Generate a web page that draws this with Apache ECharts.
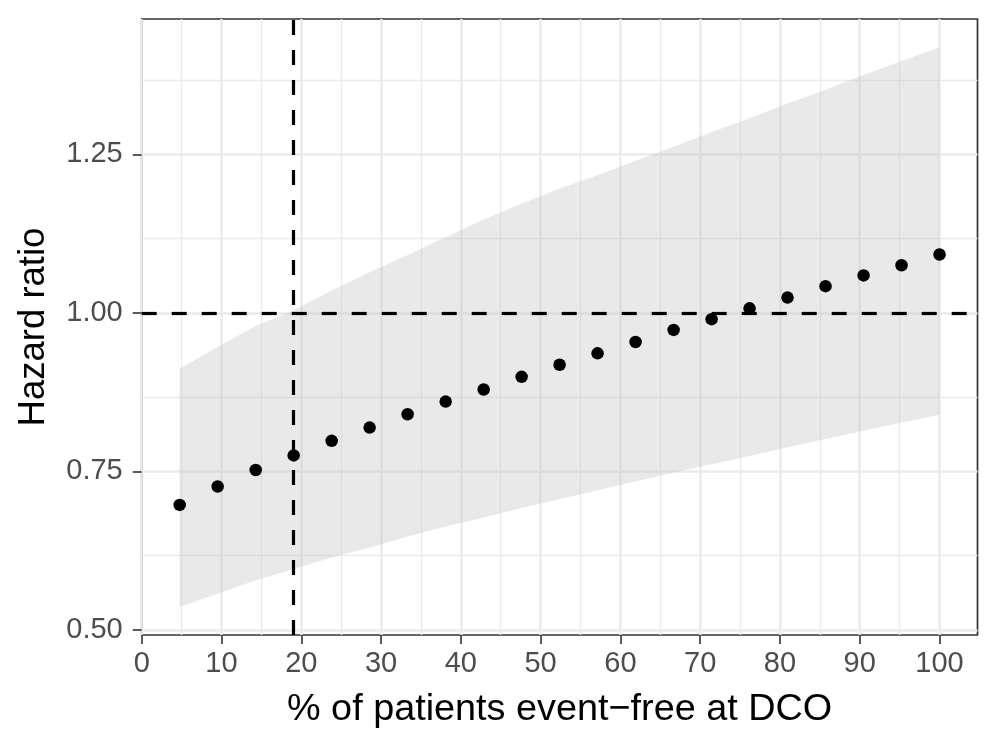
<!DOCTYPE html>
<html>
<head>
<meta charset="utf-8">
<script src="https://cdn.jsdelivr.net/npm/echarts@6/dist/echarts.min.js"></script>
<style>
html,body{margin:0;padding:0;background:#fff;}
#chart{width:997px;height:747px;}
</style>
</head>
<body>
<div id="chart"></div>
<script>
// ---- data ----
const xPct = [4.76, 9.52, 14.29, 19.05, 23.81, 28.57, 33.33, 38.10, 42.86, 47.62, 52.38,
              57.14, 61.90, 66.67, 71.43, 76.19, 80.95, 85.71, 90.48, 95.24, 100];
const hazardRatio = [0.697, 0.726, 0.752, 0.775, 0.798, 0.819, 0.840, 0.860, 0.879, 0.899, 0.918,
                     0.936, 0.954, 0.973, 0.990, 1.007, 1.024, 1.042, 1.059, 1.075, 1.092];
const ciLower = [0.536, 0.557, 0.578, 0.596, 0.614, 0.630, 0.647, 0.663, 0.677, 0.692, 0.706,
                 0.720, 0.734, 0.748, 0.761, 0.774, 0.788, 0.801, 0.814, 0.827, 0.839];
const ciUpper = [0.912, 0.946, 0.979, 1.004, 1.035, 1.064, 1.091, 1.119, 1.147, 1.172, 1.196,
                 1.217, 1.240, 1.262, 1.285, 1.307, 1.330, 1.352, 1.375, 1.397, 1.419];
const xTicks = [0, 10, 20, 30, 40, 50, 60, 70, 80, 90, 100];
const yTicks = [0.5, 0.75, 1.0, 1.25];
const refHR = 1.0;
const refX = 19.05;
const xTitle = '% of patients event\u2212free at DCO';
const yTitle = 'Hazard ratio';

// axis ranges (ggplot-style 5% expansion of data range)
const xMin = 0, xMax = 104.76;
const yMin = 0.4918, yMax = 1.4634;

const pointData = xPct.map((x, i) => [x, hazardRatio[i]]);
const bandData = xPct.map((x, i) => [x, ciLower[i], ciUpper[i]]);

const FONT = '"Liberation Sans", Arial, Helvetica, sans-serif';
const chart = echarts.init(document.getElementById('chart'), null, {renderer: 'canvas'});
chart.setOption({
  animation: false,
  backgroundColor: '#ffffff',
  grid: {
    left: 141.7, right: 19.5, top: 19, bottom: 112,
    show: true, borderColor: '#333333', borderWidth: 1.7, backgroundColor: 'transparent'
  },
  xAxis: {
    type: 'value', min: xMin, max: xMax, interval: 10,
    name: xTitle, nameLocation: 'middle', nameGap: 56,
    nameTextStyle: {color: '#000', fontSize: 37.8, fontFamily: FONT},
    axisLine: {show: false},
    axisTick: {show: true, length: 9, customValues: xTicks, lineStyle: {color: '#333333', width: 1.6}},
    axisLabel: {show: true, margin: 14, customValues: xTicks, color: '#4D4D4D', fontSize: 29, fontFamily: FONT},
    splitLine: {show: true, lineStyle: {color: '#EBEBEB', width: 2.5}},
    minorTick: {show: false, splitNumber: 2},
    minorSplitLine: {show: true, lineStyle: {color: '#EBEBEB', width: 1.3}}
  },
  yAxis: {
    type: 'value', min: yMin, max: yMax, interval: 0.25,
    name: yTitle, nameLocation: 'middle', nameGap: 89,
    nameTextStyle: {color: '#000', fontSize: 36.5, fontFamily: FONT},
    axisLine: {show: false},
    axisTick: {show: true, length: 9, customValues: yTicks, lineStyle: {color: '#333333', width: 1.6}},
    axisLabel: {show: true, margin: 19, customValues: yTicks, color: '#4D4D4D', fontSize: 29, fontFamily: FONT,
                formatter: v => Number(v).toFixed(2)},
    splitLine: {show: true, lineStyle: {color: '#EBEBEB', width: 2.5}},
    minorTick: {show: false, splitNumber: 2},
    minorSplitLine: {show: true, lineStyle: {color: '#EBEBEB', width: 1.3}}
  },
  series: [
    {
      type: 'custom', name: 'CI band', data: [0], z: 1, silent: true,
      renderItem: function (params, api) {
        const upperPts = bandData.map(d => api.coord([d[0], d[2]]));
        const lowerPts = bandData.slice().reverse().map(d => api.coord([d[0], d[1]]));
        return {
          type: 'polygon',
          shape: {points: upperPts.concat(lowerPts)},
          style: {fill: 'rgba(190,190,190,0.34)', stroke: null}
        };
      },
      markLine: {
        silent: true, symbol: 'none', label: {show: false}, z: 3,
        lineStyle: {color: '#000', width: 3.2, type: [15, 15]},
        data: [{yAxis: refHR}, {xAxis: refX}]
      }
    },
    {
      type: 'scatter', name: 'HR', data: pointData, symbol: 'circle', symbolSize: 12.5,
      itemStyle: {color: '#000', opacity: 1}, z: 10
    }
  ]
});
</script>
</body>
</html>
